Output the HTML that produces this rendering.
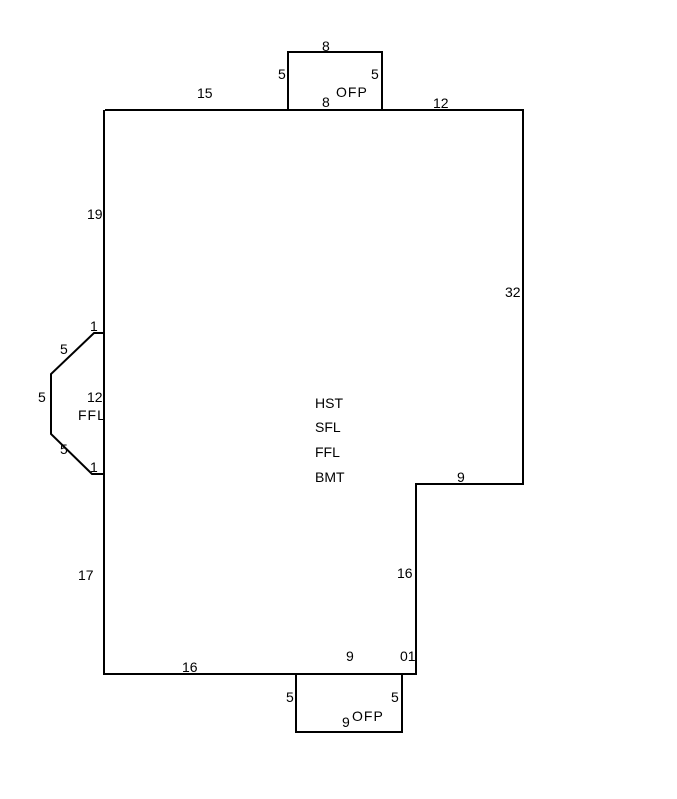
<!DOCTYPE html>
<html><head><style>body{margin:0;background:#fff}</style></head><body>
<svg width="677" height="799" xmlns="http://www.w3.org/2000/svg" style="display:block">
<g fill="none" stroke="#000" stroke-width="2">
<polyline points="105,110 523,110 523,484 416,484 416,674 104,674 104,110"/>
<polyline points="288,110 288,52 382,52 382,110"/>
<polyline points="296,674 296,732 402,732 402,674"/>
<polyline points="104,333 94,333 51,374 51,434 92,474 104,474"/>
</g>
<g font-family="Liberation Sans, sans-serif" font-size="14" fill="#000">
<text x="322" y="51">8</text>
<text x="278" y="79">5</text>
<text x="371" y="79">5</text>
<text x="322" y="107">8</text>
<text x="336" y="97" letter-spacing="1">OFP</text>
<text x="197" y="98">15</text>
<text x="433" y="108">12</text>
<text x="87" y="219">19</text>
<text x="505" y="297">32</text>
<text x="90" y="331">1</text>
<text x="60" y="354">5</text>
<text x="38" y="402">5</text>
<text x="87" y="402">12</text>
<text x="78" y="420" letter-spacing="1">FFL</text>
<text x="60" y="454">5</text>
<text x="90" y="472">1</text>
<text x="315" y="408">HST</text>
<text x="315" y="432">SFL</text>
<text x="315" y="457">FFL</text>
<text x="315" y="482">BMT</text>
<text x="457" y="482">9</text>
<text x="78" y="580">17</text>
<text x="397" y="578">16</text>
<text x="182" y="672">16</text>
<text x="346" y="661">9</text>
<text x="400" y="661">01</text>
<text x="286" y="702">5</text>
<text x="391" y="702">5</text>
<text x="342" y="727">9</text>
<text x="352" y="721" letter-spacing="1">OFP</text>
</g>
</svg>
</body></html>
